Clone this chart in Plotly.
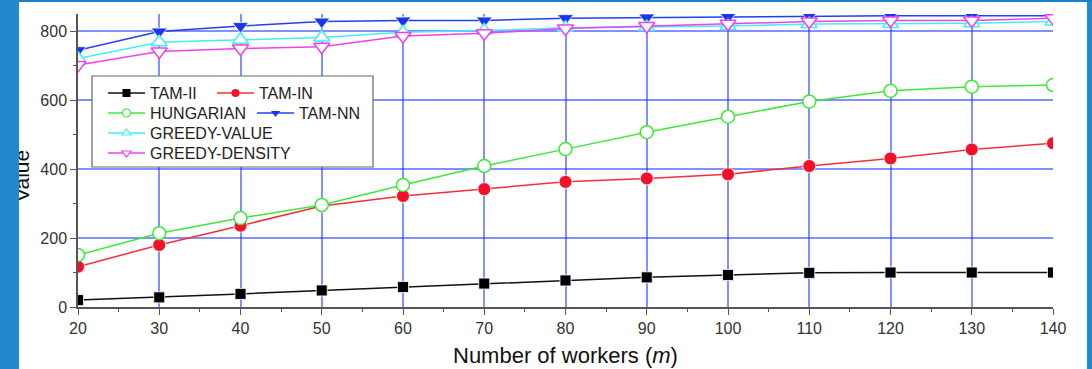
import plotly.graph_objects as go

workers = [20, 30, 40, 50, 60, 70, 80, 90, 100, 110, 120, 130, 140]
tam_ii = [20, 28, 38, 48, 58, 68, 77, 86, 93, 99, 100, 100, 100]
tam_in = [117, 180, 236, 293, 322, 342, 363, 373, 385, 409, 431, 457, 475]
hungarian = [151, 214, 258, 296, 354, 409, 458, 507, 552, 596, 627, 639, 644]
tam_nn = [745, 799, 815, 828, 831, 831, 838, 840, 842, 845, 845, 845, 845]
greedy_value = [721, 768, 775, 782, 797, 802, 810, 812, 815, 821, 821, 823, 828]
greedy_density = [702, 741, 750, 755, 786, 794, 808, 815, 822, 828, 831, 831, 838]

x_ticks = [20, 30, 40, 50, 60, 70, 80, 90, 100, 110, 120, 130, 140]
y_ticks = [0, 200, 400, 600, 800]

series = [
    # name, values, line color, symbol, fill, size
    ("TAM-II", tam_ii, "#111111", "square", "#000000", 11),
    ("TAM-IN", tam_in, "#f0303a", "circle", "#f5102a", 13),
    ("HUNGARIAN", hungarian, "#3ee83a", "circle-open", None, 13),
    ("TAM-NN", tam_nn, "#2040f5", "triangle-down", "#1a35f0", 14),
    ("GREEDY-VALUE", greedy_value, "#40f0f5", "triangle-up-open", None, 14),
    ("GREEDY-DENSITY", greedy_density, "#f040f0", "triangle-down-open", None, 14),
]

L, R, T, B = 78, 39, 14, 62
W, H = 1092, 369
pw, ph = W - L - R, H - T - B

def px(xp):
    return (xp - L) / pw

def py(yp):
    return (H - B - yp) / ph

# legend entry placement in pixels: (left of symbol line, row centre)
legend_pos = [(108, 93), (217, 93), (108, 113), (257, 113), (108, 133), (108, 153)]
legend_names = ["legend", "legend2", "legend3", "legend4", "legend5", "legend6"]
LEG_FONT = 16
leg_item_h = LEG_FONT * 1.3 + 3

fig = go.Figure()
for name, vals, color, sym, fill, size in series:
    if fill is None:
        mk = dict(symbol=sym.replace("-open", ""), size=size, color="white",
                  line=dict(color=color, width=1.5))
    else:
        mk = dict(symbol=sym, size=size, color=fill, line=dict(color="white", width=0.8))
    fig.add_trace(go.Scatter(
        x=workers, y=vals, mode="lines+markers", name=name,
        line=dict(color=color, width=1.5), marker=mk, showlegend=False,
        cliponaxis=True,
    ))

# legend entries (smaller markers, as in the reference)
for (name, vals, color, sym, fill, size), leg in zip(series, legend_names):
    if fill is None:
        mk = dict(symbol=sym.replace("-open", ""), size=8, color="white",
                  line=dict(color=color, width=1.2))
    else:
        mk = dict(symbol=sym, size=8, color=fill, line=dict(width=0))
    fig.add_trace(go.Scatter(
        x=[None], y=[None], mode="lines+markers", name=name,
        line=dict(color=color, width=1.5), marker=mk, legend=leg, showlegend=True,
    ))

grid_col = "rgba(30,50,255,0.55)"
axis_col = "#555555"

legends = {}
for leg, (lx, ly) in zip(legend_names, legend_pos):
    legends[leg] = dict(
        x=px(lx - 5), y=py(ly - leg_item_h / 2 - 5), xanchor="left", yanchor="top",
        bgcolor="rgba(0,0,0,0)", borderwidth=0, itemwidth=37,
        font=dict(size=LEG_FONT, color="#222222"), tracegroupgap=0,
    )

fig.update_layout(
    width=W, height=H,
    margin=dict(l=L, r=R, t=T, b=B),
    paper_bgcolor="white", plot_bgcolor="white",
    font=dict(family="Liberation Sans, Arial, sans-serif", color="#222222"),
    xaxis=dict(
        range=[20, 140], tickvals=x_ticks, ticktext=[str(v) for v in x_ticks],
        showgrid=True, gridcolor=grid_col, gridwidth=1.5,
        showline=True, linecolor=axis_col, linewidth=1.5,
        ticks="outside", ticklen=6, tickwidth=1.2, tickcolor=axis_col,
        tickfont=dict(size=16, color="#333333"),
        minor=dict(dtick=5, tick0=0, ticks="outside", ticklen=3, tickwidth=1, tickcolor=axis_col, showgrid=False),
        zeroline=False,
    ),
    yaxis=dict(
        range=[0, 850], tickvals=y_ticks, ticktext=[str(v) for v in y_ticks],
        showgrid=True, gridcolor=grid_col, gridwidth=1.5,
        showline=True, linecolor=axis_col, linewidth=1.5,
        ticks="outside", ticklen=6, tickwidth=1.2, tickcolor=axis_col,
        tickfont=dict(size=16, color="#333333"),
        minor=dict(dtick=100, tick0=0, ticks="outside", ticklen=3, tickwidth=1, tickcolor=axis_col, showgrid=False),
        zeroline=False,
    ),
    showlegend=True,
    **legends,
)

# legend frame
fig.add_shape(type="rect", xref="paper", yref="paper",
              x0=px(92), x1=px(373), y0=py(167), y1=py(76),
              fillcolor="white", line=dict(color="#666666", width=1.2), layer="above")

# axis titles
fig.add_annotation(text="Number of workers (<i>m</i>)", xref="paper", yref="paper",
                   x=0.5, y=py(355), xanchor="center", yanchor="middle", showarrow=False,
                   font=dict(size=22, color="#111111"))
fig.add_annotation(text="Value", xref="paper", yref="paper",
                   x=px(21), y=py(176), xanchor="center", yanchor="middle", showarrow=False,
                   textangle=-90, font=dict(size=21, color="#111111"))

# slide background: left strip drawn as an annotation so it covers the cut title
blue = "#2389cc"
fig.add_annotation(text=" ", xref="paper", yref="paper", x=px(0), y=py(-5),
                   xanchor="left", yanchor="top", showarrow=False,
                   width=19, height=H + 10, bgcolor=blue, borderpad=0, borderwidth=0)
fig.add_shape(type="rect", xref="paper", yref="paper", x0=px(1087), x1=px(W + 2), y0=py(H + 2), y1=py(-2),
              fillcolor=blue, line=dict(width=0), layer="above")
fig.add_shape(type="rect", xref="paper", yref="paper", x0=px(-2), x1=px(W + 2), y0=py(2), y1=py(-2),
              fillcolor="#1a80c8", line=dict(width=0), layer="above")

fig.write_html("out.html")
